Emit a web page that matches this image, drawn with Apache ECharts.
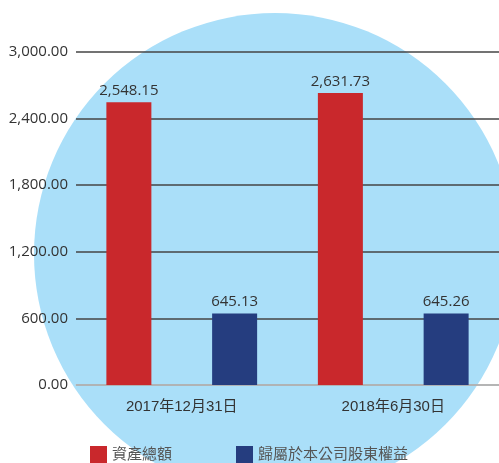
<!DOCTYPE html>
<html>
<head>
<meta charset="utf-8">
<script src="https://cdn.jsdelivr.net/npm/echarts@6/dist/echarts.min.js"></script>
<style>
  html, body { margin: 0; padding: 0; background: #fff; }
  #chart { width: 499px; height: 463px; }
</style>
</head>
<body>
<div id="chart"></div>
<script>
// Reporting dates (x-axis categories)
const categories = ['2017年12月31日', '2018年6月30日'];
// Series names and values
const seriesNames = ['資產總額', '歸屬於本公司股東權益'];
const totalAssets = [2548.15, 2631.73];
const equity = [645.13, 645.26];
// Value axis range
const yMin = 0, yMax = 3000, yStep = 600;

const fmt = v => Number(v).toLocaleString('en-US', { minimumFractionDigits: 2, maximumFractionDigits: 2 });
const numFont = '"Open Sans", "Noto Sans CJK TC", sans-serif';
const catFont = '"Liberation Sans", "Noto Sans CJK TC", sans-serif';

const chart = echarts.init(document.getElementById('chart'), null, { renderer: 'canvas' });
chart.setOption({
  animation: false,
  textStyle: { fontFamily: numFont },
  graphic: [{
    type: 'circle',
    z: -10,
    silent: true,
    shape: { cx: 275, cy: 254, r: 241 },
    style: { fill: '#aadff9' }
  }],
  grid: { left: 76, right: 0, top: 52, bottom: 78, containLabel: false },
  legend: {
    top: 441,
    left: 85,
    itemWidth: 17,
    itemHeight: 17,
    itemGap: 64,
    icon: 'rect',
    textStyle: { fontSize: 15, color: '#555', fontFamily: catFont },
    data: seriesNames
  },
  xAxis: {
    type: 'category',
    data: categories,
    axisLine: { lineStyle: { color: '#ccc', width: 1.5 } },
    axisTick: { show: false },
    axisLabel: { fontSize: 15, color: '#333', margin: 14, fontFamily: catFont }
  },
  yAxis: {
    type: 'value',
    min: yMin, max: yMax, interval: yStep,
    axisLine: { show: false },
    axisTick: { show: false },
    axisLabel: { fontSize: 15, color: '#333', margin: 8, formatter: fmt, fontFamily: numFont },
    splitLine: { lineStyle: { color: '#444', width: 1.5 } }
  },
  series: [
    {
      name: seriesNames[0], type: 'bar', data: totalAssets,
      barWidth: 45, barGap: '135%',
      itemStyle: { color: '#c9282c' },
      label: { show: true, position: 'top', distance: 4, fontSize: 15, color: '#333', formatter: p => fmt(p.value), fontFamily: numFont }
    },
    {
      name: seriesNames[1], type: 'bar', data: equity,
      barWidth: 45,
      itemStyle: { color: '#253d7f' },
      label: { show: true, position: 'top', distance: 4, fontSize: 15, color: '#333', formatter: p => fmt(p.value), fontFamily: numFont }
    }
  ]
});
</script>
</body>
</html>
